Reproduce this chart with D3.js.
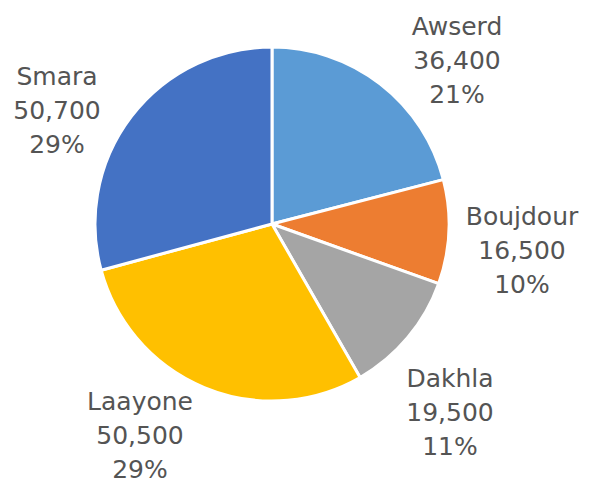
<!DOCTYPE html>
<html>
<head>
<meta charset="utf-8">
<script src="https://cdn.jsdelivr.net/npm/d3@7"></script>
<style>
  body { margin: 0; background: #fff; }
  svg text { font-family: "DejaVu Sans", sans-serif; }
</style>
</head>
<body>
<div id="chart"></div>
<script>
// regions and population, clockwise from 12 o'clock
const regions = ['Awserd', 'Boujdour', 'Dakhla', 'Laayone', 'Smara'];
const population = [36400, 16500, 19500, 50500, 50700];
const shares = ['21%', '10%', '11%', '29%', '29%'];
const colors = ['#5b9bd5', '#ed7d31', '#a5a5a5', '#ffc000', '#4472c4'];

// label box centres, relative to the pie centre (layout only)
const labelOffsets = [[185, -164], [250, 26], [178, 188], [-132, 211], [-215, -114]];

const width = 590, height = 485;
const cx = 272, cy = 224, radius = 177;
const lineGap = 34;

const svg = d3.select('#chart')
    .append('svg')
    .attr('width', width)
    .attr('height', height);

const g = svg.append('g')
    .attr('transform', `translate(${cx},${cy})`);

const data = regions.map((r, i) => ({region: r, value: population[i], share: shares[i], color: colors[i], off: labelOffsets[i]}));

const pie = d3.pie().sort(null).value(d => d.value);
const arc = d3.arc().innerRadius(0).outerRadius(radius);

g.selectAll('path.slice')
    .data(pie(data))
    .enter()
    .append('path')
    .attr('class', 'slice')
    .attr('d', arc)
    .attr('fill', d => d.data.color)
    .attr('stroke', '#fff')
    .attr('stroke-width', 3)
    .attr('stroke-linejoin', 'round');

const fmt = d3.format(',');

const labels = g.selectAll('text.label')
    .data(data)
    .enter()
    .append('text')
    .attr('class', 'label')
    .attr('text-anchor', 'middle')
    .attr('font-size', '25px')
    .attr('fill', '#545454');

labels.each(function (d) {
    const t = d3.select(this);
    [d.region, fmt(d.value), d.share].forEach((line, k) => {
        t.append('tspan')
            .attr('x', d.off[0])
            .attr('y', d.off[1] + (k - 1) * lineGap)
            .attr('dy', '0.35em')
            .text(line);
    });
});
</script>
</body>
</html>
